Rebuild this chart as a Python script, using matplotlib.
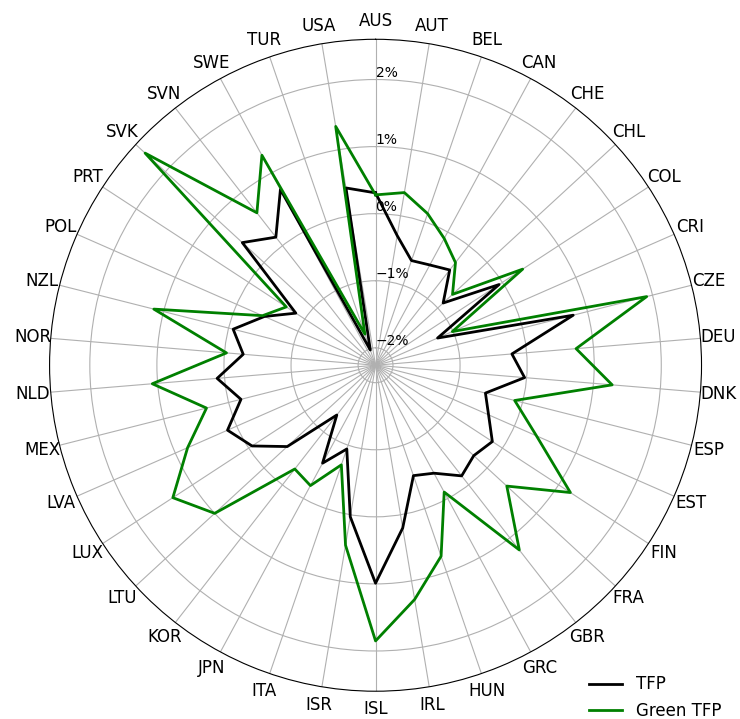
import numpy as np
import matplotlib
matplotlib.use("Agg")
import matplotlib.pyplot as plt

countries = ["AUS", "AUT", "BEL", "CAN", "CHE", "CHL", "COL", "CRI", "CZE", "DEU",
             "DNK", "ESP", "EST", "FIN", "FRA", "GBR", "GRC", "HUN", "IRL", "ISL",
             "ISR", "ITA", "JPN", "KOR", "LTU", "LUX", "LVA", "MEX", "NLD", "NOR",
             "NZL", "POL", "PRT", "SVK", "SVN", "SWE", "TUR", "USA"]

tfp = [0.31, -0.30, -0.61, -0.56, -0.46, -0.89, -0.06, -1.25, 0.78, -0.22,
       -0.03, -0.57, -0.42, -0.18, -0.27, -0.17, -0.43, -0.52, 0.20, 0.99,
       0.03, -0.94, -0.60, -1.32, -0.47, -0.06, 0.15, -0.19, 0.11, -0.28,
       -0.07, -0.45, -0.84, 0.44, 0.16, 0.72, -2.02, 0.42]

green_tfp = [0.28, 0.35, 0.13, -0.11, -0.32, -0.70, 0.36, -1.01, 1.91, 0.74,
             1.28, -0.12, 0.36, 1.21, 0.40, 1.23, -0.11, 0.75, 1.28, 1.85,
             0.46, -0.69, -0.22, -0.30, 1.00, 1.35, 0.80, 0.34, 1.08, -0.03,
             1.15, -0.42, -0.67, 2.41, 0.62, 1.30, -1.77, 1.35]

r_ticks = [-2, -1, 0, 1, 2]
r_tick_labels = ["\u22122%", "\u22121%", "0%", "1%", "2%"]

n = len(countries)
angles = np.linspace(0, 2 * np.pi, n, endpoint=False)
ang_closed = np.concatenate([angles, angles[:1]])

fig = plt.figure(figsize=(7.40, 7.19), dpi=100)
ax = fig.add_axes([0.067, 0.0385, 0.881, 0.907], projection="polar")
ax.set_theta_zero_location("N")
ax.set_theta_direction(-1)

ax.plot(ang_closed, tfp + tfp[:1], color="black", lw=2, label="TFP")
ax.plot(ang_closed, green_tfp + green_tfp[:1], color="green", lw=2, label="Green TFP")

ax.set_ylim(-2.26, 2.60)
ax.set_yticks(r_ticks)
ax.set_yticklabels(r_tick_labels, fontsize=10)
ax.set_rlabel_position(0)
ax.set_xticks(angles)
ax.set_xticklabels(countries, fontsize=12)
ax.tick_params(axis="x", pad=2.5)
ax.grid(True, color="#b0b0b0", lw=0.8)

fig.legend(loc="lower right", bbox_to_anchor=(0.995, -0.022), frameon=False, fontsize=12)

fig.savefig("out.png", dpi=100)
